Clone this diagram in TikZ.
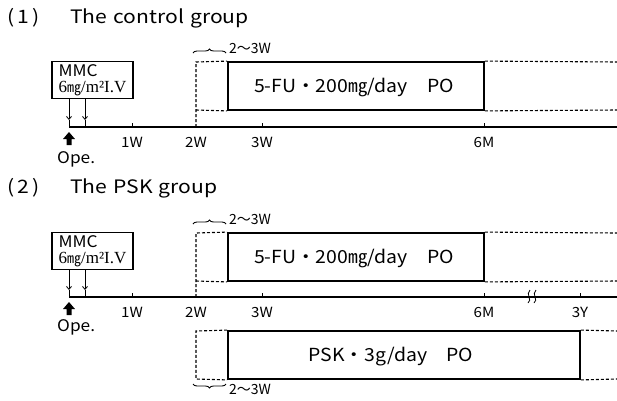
\documentclass[tikz,border=0pt]{standalone}
\usepackage{fontspec}
\setmainfont{Noto Sans CJK JP}
\newfontfamily\widesans{Noto Sans CJK JP}[FakeStretch=1.08]
\newfontfamily\titlesans{Noto Sans CJK JP}[FakeStretch=1.14,WordSpace=1.3]
\newfontfamily\doseserif{Liberation Serif}
\usetikzlibrary{decorations.pathreplacing,arrows.meta}
\newcommand{\mmcdose}{{\doseserif\fontsize{17}{17}\selectfont 6{\rmfamily\fontsize{14}{14}\selectfont ㎎}/m²I.V}}
\begin{document}
\begin{tikzpicture}[x=1pt,y=-1pt,
  axisline/.style={line width=1.6pt},
  dosebox/.style={draw,line width=1.8pt,inner sep=0pt},
  mmcbox/.style={draw,line width=1.2pt,align=left,inner sep=2pt,
    minimum width=81pt,minimum height=37pt,font=\widesans\fontsize{16}{16.5}\selectfont},
  guide/.style={line width=1.1pt,dash pattern=on 3pt off 2pt},
  tickmark/.style={line width=0.9pt},
  ticklabel/.style={inner sep=0pt,font=\widesans\fontsize{14}{14}\selectfont},
  titletext/.style={anchor=west,inner sep=0pt,font=\titlesans\fontsize{18.5}{18.5}\selectfont},
  dosetext/.style={inner sep=0pt,font=\widesans\fontsize{18}{18}\selectfont},
  spantext/.style={anchor=west,inner sep=0pt,font=\fontsize{14}{14}\selectfont},
  opetext/.style={anchor=west,inner sep=0pt,font=\widesans\fontsize{16}{16}\selectfont},
  spanbrace/.style={decorate,decoration={brace,amplitude=4pt,aspect=0.5},line width=0.9pt},
  givearrow/.style={line width=0.8pt,-{Straight Barb[length=3pt,width=5pt]}},
  opearrow/.style={fill=black}
]
\useasboundingbox (0,0) rectangle (617,400);

% ---------- (1) control group ----------
\node[titletext] (n1) at (7,18) {(\hspace{3pt}1\hspace{3pt})};
\node[titletext] (t1) at (70,18) {The control group};

\coordinate (a1s) at (69,127);
\coordinate (a1e) at (617,127);
\draw[axisline] (a1s) -- (a1e);
\foreach \x in {132,262,484}
  \draw[tickmark] (\x,127) -- (\x,123);
\foreach \x/\n in {132/1W,196/2W,262/3W,484/6M}
  \node[ticklabel] (l1\n) at (\x,142) {\n};

\node[mmcbox] (mmc1) at (92.5,80) {MMC\\\mmcdose};
\coordinate (m1a) at (69,120);
\coordinate (m1b) at (85,120);
\draw[givearrow] (mmc1.south -| m1a) -- (m1a);
\draw[givearrow] (mmc1.south -| m1b) -- (m1b);
\draw[line width=0.8pt] (m1a) -- (a1s);
\draw[line width=0.8pt] (m1b) -- (85,127);

\fill[opearrow] (69,132) -- (75,139) -- (71.5,139) -- (71.5,145)
  -- (66.5,145) -- (66.5,139) -- (63,139) -- cycle;
\node[opetext] (ope1) at (57,159) {Ope.};

\node[dosebox,minimum width=256pt,minimum height=48pt] (fu1) at (356,86) {};
\node[dosetext] (fu1t) at (354,88) {5-FU・200㎎/day　PO};
\draw[guide] (196,127) -- (196,62) -- (fu1.north west);
\draw[guide] (196,110) -- (fu1.south west);
\draw[guide] (fu1.north east) -- (617,62);
\draw[guide] (fu1.south east) -- (617,110);

\draw[spanbrace] (193,53) -- (226,53);
\node[spantext] (s1) at (229,48) {2〜3W};

% ---------- (2) PSK group ----------
\node[titletext] (n2) at (7,188) {(\hspace{3pt}2\hspace{3pt})};
\node[titletext] (t2) at (70,188) {The PSK group};

\coordinate (a2s) at (69,297);
\coordinate (a2e) at (617,297);
\draw[axisline] (a2s) -- (a2e);
\foreach \x in {132,262,484,580}
  \draw[tickmark] (\x,297) -- (\x,293);
\foreach \x/\n in {132/1W,196/2W,262/3W,484/6M,580/3Y}
  \node[ticklabel] (l2\n) at (\x,312) {\n};

% break in the time scale
\draw[line width=0.8pt] (528,303) .. controls (533,300) and (525,294) .. (530,290);
\draw[line width=0.8pt] (534,303) .. controls (539,300) and (531,294) .. (536,290);

\node[mmcbox] (mmc2) at (92.5,251) {MMC\\\mmcdose};
\coordinate (m2a) at (69,290);
\coordinate (m2b) at (85,290);
\draw[givearrow] (mmc2.south -| m2a) -- (m2a);
\draw[givearrow] (mmc2.south -| m2b) -- (m2b);
\draw[line width=0.8pt] (m2a) -- (a2s);
\draw[line width=0.8pt] (m2b) -- (85,297);

\fill[opearrow] (69,302) -- (75,309) -- (71.5,309) -- (71.5,315)
  -- (66.5,315) -- (66.5,309) -- (63,309) -- cycle;
\node[opetext] (ope2) at (57,327) {Ope.};

\node[dosebox,minimum width=256pt,minimum height=48pt] (fu2) at (356,257) {};
\node[dosetext] (fu2t) at (354,259) {5-FU・200㎎/day　PO};
\draw[guide] (196,297) -- (196,233) -- (fu2.north west);
\draw[guide] (196,281) -- (fu2.south west);
\draw[guide] (fu2.north east) -- (617,233);
\draw[guide] (fu2.south east) -- (617,281);

\draw[spanbrace] (193,224) -- (226,224);
\node[spantext] (s2) at (229,219) {2〜3W};

\node[dosebox,minimum width=352pt,minimum height=48pt] (psk) at (404,355) {};
\node[dosetext] (pskt) at (391,357) {PSK・3g/day　PO};
\draw[guide] (psk.north west) -- (196,331) -- (196,379) -- (psk.south west);
\draw[guide] (psk.north east) -- (617,331);
\draw[guide] (psk.south east) -- (617,379);

\draw[spanbrace,decoration={mirror}] (193,384) -- (226,384);
\node[spantext] (s3) at (229,389) {2〜3W};
\end{tikzpicture}
\end{document}
